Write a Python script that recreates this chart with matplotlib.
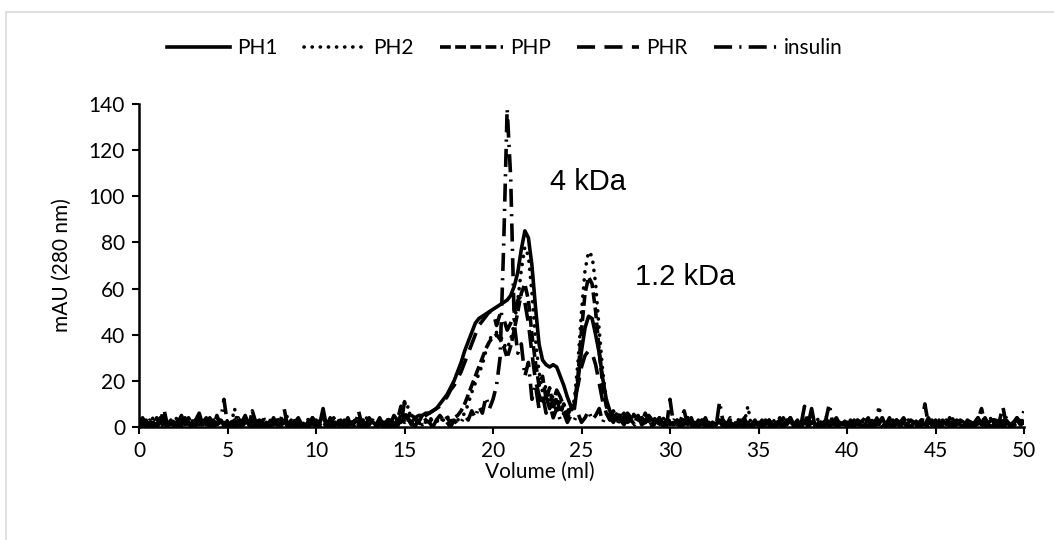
import numpy as np
import matplotlib
matplotlib.use("Agg")
import matplotlib.pyplot as plt
from matplotlib.patches import Rectangle

# elution volume grid (ml), one reading every 0.2 ml
volume = np.linspace(0, 50, 251)

# absorbance readings (mAU at 280 nm), one row per 5 ml
ph1 = [2, 1, 3, 0, 2, 1, 4, 2, 1, 3, 0, 2, 5, 1, 2, 0, 3, 1, 2, 4, 1, 0, 2, 3, 1,
       2, 0, 3, 1, 2, 5, 1, 0, 2, 3, 1, 2, 0, 4, 1, 2, 3, 0, 1, 2, 4, 1, 0, 2, 1,
       3, 1, 8, 0, 4, 2, 1, 3, 0, 2, 1, 3, 2, 0, 1, 4, 2, 1, 3, 0, 2, 1, 5, 3, 2,
       4, 5, 5, 4, 5, 5, 6, 6, 7, 8, 10, 12, 14, 17, 20, 24, 28, 33, 37, 41, 45, 47, 48, 49, 50,
       51, 52, 53, 54, 55, 57, 61, 67, 77, 85, 82, 70, 52, 36, 29, 27, 26, 27, 26, 22, 18, 13, 9, 8, 20,
       33, 43, 48, 47, 40, 32, 21, 12, 7, 5, 4, 5, 3, 6, 4, 5, 3, 4, 2, 5, 3, 2, 4, 1, 3,
       2, 1, 3, 0, 2, 4, 1, 2, 0, 3, 1, 2, 0, 1, 3, 2, 0, 2, 1, 0, 3, 1, 2, 0, 1,
       2, 0, 1, 3, 0, 2, 1, 0, 2, 4, 1, 3, 0, 2, 1, 8, 0, 2, 1, 3, 0, 2, 4, 1, 2,
       0, 3, 1, 2, 0, 1, 3, 0, 2, 1, 4, 0, 2, 1, 3, 0, 2, 1, 3, 2, 0, 2, 1, 4, 1,
       2, 0, 3, 1, 2, 0, 1, 3, 2, 0, 1, 2, 4, 1, 0, 2, 3, 1, 2, 0, 3, 1, 2, 4, 1,
       2]

ph2 = [1, 3, 0, 2, 4, 1, 2, 0, 3, 1, 2, 5, 0, 2, 1, 3, 0, 4, 1, 2, 0, 3, 1, 2, 0,
       3, 1, 8, 0, 2, 1, 3, 0, 2, 4, 1, 0, 3, 2, 1, 0, 2, 5, 1, 3, 0, 2, 1, 4, 0,
       2, 0, 1, 3, 2, 0, 4, 1, 2, 0, 3, 1, 0, 2, 5, 1, 3, 0, 2, 1, 4, 0, 2, 1, 3,
       3, 9, 2, 4, 1, 3, 2, 4, 3, 2, 4, 3, 5, 2, 4, 3, 4, 6, 10, 15, 19, 23, 27, 33, 38,
       40, 41, 40, 36, 34, 38, 45, 55, 68, 78, 74, 58, 38, 24, 15, 18, 9, 14, 6, 11, 5, 8, 6, 12, 28,
       50, 68, 76, 74, 62, 42, 24, 12, 6, 4, 6, 3, 5, 2, 4, 6, 3, 1, 4, 2, 5, 3, 1, 4, 2,
       3, 1, 2, 0, 4, 1, 3, 0, 2, 1, 3, 0, 2, 1, 0, 3, 1, 2, 0, 4, 1, 2, 9, 0, 1,
       2, 1, 3, 0, 2, 4, 1, 0, 3, 1, 2, 0, 1, 3, 0, 2, 1, 4, 0, 2, 1, 3, 0, 2, 1,
       3, 0, 2, 1, 4, 0, 1, 3, 0, 9, 2, 1, 0, 3, 1, 2, 0, 4, 1, 2, 0, 3, 1, 0, 2,
       1, 3, 0, 2, 1, 4, 0, 2, 3, 1, 0, 2, 1, 3, 0, 2, 5, 1, 0, 3, 2, 1, 0, 2, 3,
       1]

php = [0, 2, 1, 3, 0, 4, 1, 2, 0, 3, 2, 1, 0, 2, 4, 1, 3, 0, 2, 1, 3, 0, 5, 1, 2,
       1, 3, 0, 2, 1, 3, 0, 7, 2, 1, 0, 3, 2, 1, 4, 0, 2, 1, 3, 0, 2, 1, 0, 3, 2,
       0, 2, 4, 1, 3, 0, 2, 1, 0, 3, 1, 2, 4, 0, 2, 1, 3, 0, 1, 2, 0, 4, 1, 3, 9,
       2, 4, 1, 3, 2, 5, 3, 2, 4, 3, 5, 3, 4, 2, 4, 5, 7, 10, 14, 18, 22, 26, 30, 34, 37,
       39, 40, 38, 35, 30, 35, 42, 50, 58, 62, 55, 40, 28, 18, 22, 12, 17, 8, 13, 6, 10, 4, 7, 10, 22,
       42, 58, 65, 62, 50, 33, 18, 9, 5, 7, 3, 6, 2, 5, 3, 1, 4, 2, 6, 3, 1, 2, 4, 0, 3,
       1, 2, 0, 3, 7, 1, 2, 0, 3, 1, 4, 0, 2, 1, 3, 0, 2, 1, 0, 3, 1, 2, 0, 1, 3,
       0, 2, 1, 3, 1, 0, 2, 4, 1, 3, 0, 2, 1, 0, 3, 2, 1, 0, 2, 4, 1, 0, 3, 1, 2,
       2, 1, 0, 3, 1, 2, 4, 0, 1, 3, 0, 2, 1, 3, 0, 2, 4, 1, 0, 2, 1, 3, 0, 2, 1,
       3, 1, 2, 0, 4, 1, 3, 2, 0, 1, 2, 0, 3, 8, 1, 2, 0, 3, 1, 2, 4, 0, 1, 3, 2,
       3]

phr = [3, 0, 2, 1, 3, 0, 2, 8, 1, 2, 0, 3, 1, 4, 0, 2, 1, 3, 0, 2, 4, 1, 0, 3, 1,
       0, 2, 1, 4, 0, 3, 1, 2, 0, 2, 3, 1, 0, 2, 1, 3, 8, 0, 2, 1, 3, 0, 2, 1, 4,
       1, 3, 0, 2, 1, 0, 3, 2, 1, 4, 0, 2, 1, 3, 0, 2, 1, 0, 3, 2, 1, 4, 0, 2, 1,
       11, 3, 2, 4, 3, 4, 5, 6, 7, 8, 9, 11, 13, 16, 18, 21, 24, 28, 32, 36, 40, 44, 46, 48, 50,
       50, 44, 49, 47, 42, 45, 50, 55, 57, 54, 45, 32, 20, 14, 10, 13, 8, 11, 16, 13, 9, 5, 8, 12, 18,
       26, 31, 33, 32, 27, 19, 11, 6, 4, 2, 5, 3, 1, 4, 2, 3, 5, 1, 2, 4, 0, 3, 1, 2, 0,
       12, 1, 3, 0, 2, 1, 4, 0, 2, 1, 3, 0, 2, 1, 0, 3, 1, 4, 0, 2, 1, 0, 3, 1, 2,
       1, 3, 0, 2, 1, 0, 3, 1, 2, 4, 0, 2, 1, 9, 0, 2, 1, 3, 0, 1, 2, 4, 0, 2, 1,
       2, 0, 3, 1, 2, 4, 0, 1, 3, 0, 2, 1, 4, 0, 3, 1, 2, 0, 1, 3, 2, 0, 10, 1, 3,
       0, 2, 1, 3, 0, 2, 4, 1, 0, 3, 2, 1, 0, 2, 4, 1, 3, 0, 2, 9, 1, 0, 2, 3, 1,
       2]

insulin = [2, 4, 1, 0, 3, 2, 1, 5, 0, 2, 3, 1, 4, 0, 2, 1, 3, 6, 1, 2, 0, 3, 1, 2, 12,
           1, 3, 0, 2, 4, 1, 0, 3, 2, 1, 5, 0, 2, 1, 3, 0, 4, 1, 2, 0, 3, 1, 2, 0, 4,
           2, 1, 3, 0, 2, 4, 1, 0, 3, 1, 2, 0, 7, 1, 3, 0, 2, 1, 4, 0, 3, 2, 1, 0, 6,
           3, 1, 2, 0, 4, 1, 3, 2, 0, 3, 1, 4, 2, 0, 3, 1, 2, 5, 3, 7, 4, 9, 6, 13, 8,
           12, 18, 30, 78, 138, 108, 45, 32, 36, 22, 28, 12, 18, 8, 14, 6, 10, 4, 8, 3, 6, 2, 5, 3, 6,
           2, 4, 7, 3, 5, 8, 2, 6, 3, 5, 1, 4, 6, 2, 3, 5, 1, 4, 2, 3, 0, 2, 4, 1, 3,
           1, 3, 0, 2, 1, 4, 0, 2, 1, 3, 0, 2, 1, 0, 11, 2, 1, 3, 0, 2, 1, 4, 0, 2, 1,
           2, 0, 3, 1, 2, 0, 4, 1, 3, 0, 2, 1, 0, 3, 2, 1, 0, 2, 1, 3, 10, 1, 2, 0, 3,
           1, 2, 0, 3, 1, 4, 0, 2, 1, 3, 0, 2, 1, 0, 3, 2, 4, 1, 0, 2, 1, 3, 0, 2, 1,
           3, 0, 2, 1, 4, 0, 2, 1, 3, 0, 2, 1, 4, 0, 3, 1, 0, 2, 3, 1, 0, 2, 1, 4, 2,
           7]

series_names = ["PH1", "PH2", "PHP", "PHR", "insulin"]
x_ticks = list(range(0, 51, 5))
y_ticks = list(range(0, 141, 20))

plt.rcParams['font.family'] = ['Lato', 'DejaVu Sans']

fig = plt.figure(figsize=(10.54, 5.4), dpi=100)
ax = fig.add_axes([139 / 1054, 1 - 427 / 540, 885 / 1054, 323 / 540])

# chart area border (light grey, cut off on the right and bottom)
fig.patches.append(Rectangle((6 / 1054, -0.1), 1.2, 1 - 12 / 540 + 0.1,
                             transform=fig.transFigure, fill=False,
                             edgecolor="#d9d9d9", linewidth=1.2))

lw = 2.6
styles = [
    dict(linestyle="-"),
    dict(linestyle=(0, (0.05, 2.2)), dash_capstyle="round"),
    dict(linestyle=(0, (3.0, 1.2)), dash_capstyle="butt"),
    dict(linestyle=(0, (5.0, 2.6)), dash_capstyle="butt"),
    dict(linestyle=(0, (5.0, 2.0, 0.6, 2.0)), dash_capstyle="butt"),
]
for name, vals, st in zip(series_names, [ph1, ph2, php, phr, insulin], styles):
    ax.plot(volume, vals, color="black", linewidth=lw, label=name, **st)

ax.set_xlim(0, 50)
ax.set_ylim(0, 140)
ax.set_xticks(x_ticks)
ax.set_yticks(y_ticks)
ax.tick_params(direction="out", length=5, width=1.5, labelsize=15, pad=5)
for s in ["top", "right"]:
    ax.spines[s].set_visible(False)
for s in ["left", "bottom"]:
    ax.spines[s].set_linewidth(1.8)

ax.set_xlabel("Volume (ml)", fontsize=15)
ax.xaxis.set_label_coords((540 - 139) / 885, (427 - 462) / 323)
ax.set_ylabel("mAU (280 nm)", fontsize=15)
ax.yaxis.set_label_coords((72 - 139) / 885, 0.5)

ax.text(23.2, 106, "4 kDa", fontsize=21, family="Liberation Sans", va="center")
ax.text(28.0, 65, "1.2 kDa", fontsize=21, family="Liberation Sans", va="center")

fig.legend(loc="center", bbox_to_anchor=(505 / 1054, 1 - 48 / 540), ncol=5,
           frameon=False, fontsize=15, handlelength=3.0, handletextpad=0.35,
           columnspacing=1.25)

fig.savefig("out.png", dpi=100)
